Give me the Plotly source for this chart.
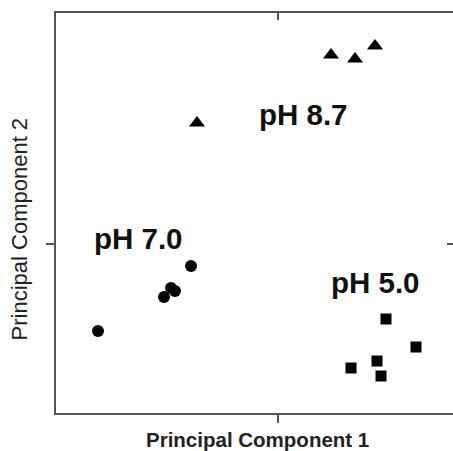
import plotly.graph_objects as go

# Data (principal component scores)
ph87_pc1 = [0.53, 0.77, 0.97, -0.81]
ph87_pc2 = [1.89, 1.85, 1.98, 1.21]
ph70_pc1 = [-0.87, -1.07, -1.03, -1.14, -1.80]
ph70_pc2 = [-0.22, -0.44, -0.47, -0.53, -0.87]
ph50_pc1 = [1.08, 1.38, 0.99, 0.73, 1.03]
ph50_pc2 = [-0.75, -1.03, -1.17, -1.24, -1.32]
group_labels = ["pH 8.7", "pH 7.0", "pH 5.0"]
x_title = "Principal Component 1"
y_title = "Principal Component 2"

FONT = "Arial, 'Liberation Sans', Helvetica, sans-serif"
AX = "#555555"
XR = [-2.22, 1.75]
YR = [-1.69, 2.31]

fig = go.Figure()
fig.add_trace(go.Scatter(x=ph87_pc1, y=ph87_pc2, mode="markers",
                         marker=dict(symbol="triangle-up", size=14, color="black")))
fig.add_trace(go.Scatter(x=ph70_pc1, y=ph70_pc2, mode="markers",
                         marker=dict(symbol="circle", size=12, color="black")))
fig.add_trace(go.Scatter(x=ph50_pc1, y=ph50_pc2, mode="markers",
                         marker=dict(symbol="square", size=11, color="black")))
# invisible trace to host mirrored axes
fig.add_trace(go.Scatter(x=[], y=[], xaxis="x2", yaxis="y2", showlegend=False))

label_pos = [(0.25, 1.30), (-1.395, 0.055), (0.975, -0.38)]
for txt, (lx, ly) in zip(group_labels, label_pos):
    fig.add_annotation(x=lx, y=ly, text=txt, showarrow=False, xanchor="center", yanchor="middle",
                       font=dict(family=FONT, size=29.5, color="#111111", weight="bold"))

fig.add_annotation(xref="paper", yref="paper", x=0.5076, y=-0.066, text=x_title, showarrow=False,
                   xanchor="center", yanchor="middle",
                   font=dict(family=FONT, size=20.5, color="#222222", weight="bold"))
fig.add_annotation(xref="paper", yref="paper", x=-0.092, y=0.46, text=y_title, showarrow=False,
                   textangle=-90, xanchor="center", yanchor="middle",
                   font=dict(family=FONT, size=22, color="#222222"))

axis_common = dict(showgrid=False, zeroline=False, showticklabels=False,
                   tickvals=[0], ticklen=8, tickwidth=1.5, tickcolor=AX)
fig.update_layout(
    width=453, height=451,
    margin=dict(l=56, r=0, t=13, b=38),
    paper_bgcolor="white", plot_bgcolor="white",
    showlegend=False,
    xaxis=dict(range=XR, showline=True, linecolor=AX, linewidth=2, ticks="outside", **axis_common),
    yaxis=dict(range=YR, showline=True, linecolor=AX, linewidth=2, ticks="outside", **axis_common),
    xaxis2=dict(range=XR, overlaying="x", side="top", showline=True, linecolor=AX, linewidth=2,
                ticks="inside", **axis_common),
    yaxis2=dict(range=YR, overlaying="y", side="right", showline=False,
                ticks="inside", **axis_common),
)
fig.update_layout(xaxis2_ticklen=7, yaxis2_ticklen=6)

fig.write_html("out.html",
               config={"displayModeBar": False},
               post_script="document.body.style.margin='0px';"
                           "document.documentElement.style.overflow='hidden';")
